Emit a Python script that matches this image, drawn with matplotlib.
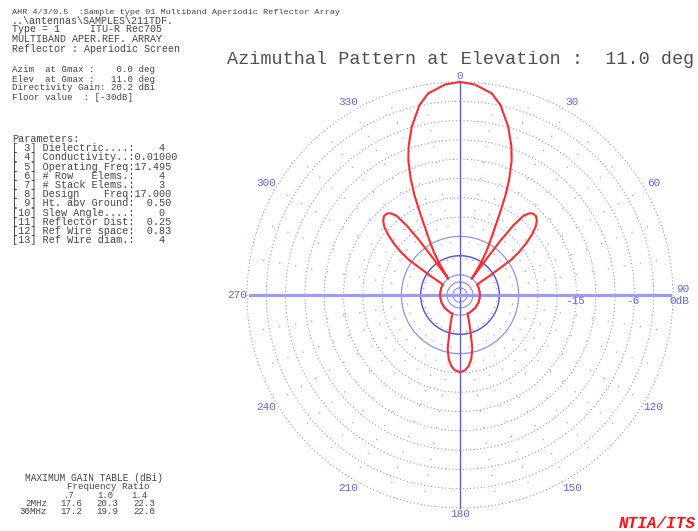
import numpy as np
import matplotlib.pyplot as plt

W, H = 698, 531

# azimuth pattern, one half (pattern is symmetric about 0-180), dB re max, floor -30
az_half = [0, 4, 9, 12, 16, 19, 21, 23, 24.5, 26, 27.5, 29, 31, 33, 35, 35.8,
           36.2, 36.7, 37.5, 38.7, 40.5, 42, 44, 46, 48, 50, 52, 54, 55.5, 57, 58.5,
           70, 90, 110, 130, 150, 158, 161, 164, 167, 170, 173, 176, 180]
gain_half = [0, -0.3, -1.4, -2.9, -5.9, -8.6, -10.7, -13.5, -16.0, -19.0, -21.5, -23.2, -25.0, -27.0, -29.3, -30,
             -26.5, -22.5, -19.5, -17.3, -16.4, -16.1, -16.1, -16.5, -17.3, -18.5, -20.0, -21.8, -23.5, -27.5, -30,
             -30, -30, -30, -30, -30, -30, -28.8, -27.2, -24.6, -23.0, -22.0, -21.4, -21.1]

ring_db = [-30, -27, -24, -21, -18, -15, -12, -9, -6, -3, 0]
inner_db = [-32.0, -31.1]
angle_labels = [0, 30, 60, 120, 150, 180, 210, 240, 270, 300, 330]
db_labels = ["-15", "-6"]

header = [
    "..\\antennas\\SAMPLES\\211TDF.",
    "Type = 1     ITU-R Rec705",
    "MULTIBAND APER.REF. ARRAY",
    "Reflector : Aperiodic Screen",
]
gmax_lines = [
    "Azim  at Gmax :    0.0 deg",
    "Elev  at Gmax :   11.0 deg",
    "Directivity Gain: 20.2 dBi",
    "Floor value  : [-30dB]",
]
params = [
    "Parameters:",
    "[ 3] Dielectric....:    4",
    "[ 4] Conductivity..:0.01000",
    "[ 5] Operating Freq:17.495",
    "[ 6] # Row   Elems.:    4",
    "[ 7] # Stack Elems.:    3",
    "[ 8] Design    Freq:17.000",
    "[ 9] Ht. abv Ground:  0.50",
    "[10] Slew Angle....:    0",
    "[11] Reflector Dist:  0.25",
    "[12] Ref Wire space:  0.83",
    "[13] Ref Wire diam.:    4",
]
freq_ratio = [".7", "1.0", "1.4"]
row_names = ["2MHz", "30MHz"]
max_gain = [[17.6, 20.3, 22.3], [17.2, 19.9, 22.0]]

MONO = "Liberation Mono"
TXT = "#454545"
GRID = "#7878ff"

fig = plt.figure(figsize=(W / 100, H / 100), dpi=100)
fig.patch.set_facecolor("white")


def put(x, y, s, **kw):
    kw.setdefault("family", MONO)
    kw.setdefault("va", "center")
    fig.text(x / W, 1 - y / H, s, **kw)


# polar axes: centre (460,295) px, radius 213 px
R = 213
ax = fig.add_axes([(460 - R) / W, (H - 295 - R) / H, 2 * R / W, 2 * R / H], projection="polar")
ax.set_theta_zero_location("N")
ax.set_theta_direction(-1)
ax.set_ylim(-33.11, 0)
ax.grid(False)
ax.set_xticks([])
ax.set_yticks([])
ax.spines["polar"].set_visible(False)
ax.patch.set_alpha(0)

th = np.linspace(0, 2 * np.pi, 721)
for d in ring_db:
    if d == -27:
        ax.plot(th, np.full_like(th, d), color="#4c4cf0", lw=1.0, clip_on=False)
    elif d == -24:
        ax.plot(th, np.full_like(th, d), color="#8f8fff", lw=0.9, clip_on=False)
    elif d == -30:
        ax.plot(th, np.full_like(th, d), color="#9a9aff", lw=0.8, clip_on=False)
    else:
        ax.plot(th, np.full_like(th, d), color=GRID, lw=0.8, ls=(0, (1, 2.2)),
                alpha=0.8, clip_on=False)
for d in inner_db:
    ax.plot(th, np.full_like(th, d), color="#8a8aff", lw=0.8, clip_on=False)

# sparse dotted spokes every 10 deg
for a in range(0, 360, 10):
    if a % 90 == 0:
        continue
    ax.plot([np.deg2rad(a)] * 2, [-30, 0], color=GRID, lw=0.9, ls=(0, (1, 12)),
            alpha=0.7, clip_on=False)

# main axes lines
for a in (0, 180):
    ax.plot([np.deg2rad(a)] * 2, [-33.11, 0], color="#5a5aff", lw=1.0, clip_on=False)
for a in (90, 270):
    ax.plot([np.deg2rad(a)] * 2, [-33.11, -0.4], color="#9a9aff", lw=2.2, clip_on=False)

# pattern
az = np.array(az_half)
g = np.array(gain_half)
az_full = np.concatenate([az, 360 - az[::-1][1:]])
g_full = np.concatenate([g, g[::-1][1:]])
ax.plot(np.deg2rad(az_full), g_full, color="#ff2a2a", lw=1.5, clip_on=False)

# angle labels
for a in angle_labels:
    r = 1.6
    if a in (0, 180):
        r = 0.9
    if a == 270:
        r = 1.5
    ax.text(np.deg2rad(a), r, str(a), color="#6464f0", family=MONO, fontsize=8,
            ha="center", va="center")
put(683, 289, "90", color="#6464f0", fontsize=8, ha="center")
put(575, 301, db_labels[0], color="#6464f0", fontsize=8, ha="center")
put(633, 301, db_labels[1], color="#6464f0", fontsize=8, ha="center")
put(669, 301, "0dB", color="#6464f0", fontsize=8, ha="left")

# title
put(227, 60, "Azimuthal Pattern at Elevation :  11.0 deg", color="#505050", fontsize=13.3)

# left text block
put(12, 12, "AHR 4/3/0.5  :Sample type 01 Multiband Aperiodic Reflector Array",
    color=TXT, fontsize=6.1)
for i, s in enumerate(header):
    put(12, [20.5, 29.5, 39, 49][i], s, color=TXT, fontsize=7.2)
for i, s in enumerate(gmax_lines):
    put(12, 70 + 9 * i, s, color=TXT, fontsize=6.6)
for i, s in enumerate(params):
    put(12, 139 + 9.2 * i, s, color=TXT, fontsize=7.3)

# maximum gain table
put(25, 478, "MAXIMUM GAIN TABLE (dBi)", color=TXT, fontsize=6.85)
put(67, 486.5, "Frequency Ratio", color=TXT, fontsize=6.6)
for s, xe in zip(freq_ratio, [75, 113, 147]):
    put(xe, 495, s, color=TXT, fontsize=6.4, ha="right")
for j, name in enumerate(row_names):
    y = 503.5 + 8.5 * j
    put(47, y, name, color=TXT, fontsize=6.6, ha="right")
    for v, xe in zip(max_gain[j], [82, 118, 155]):
        put(xe, y, f"{v:.1f}", color=TXT, fontsize=6.6, ha="right")

put(696, 523, "NTIA/ITS", color="#ff1010", fontsize=11.5, weight="bold",
    style="italic", ha="right")

fig.savefig("out.png", dpi=100)
